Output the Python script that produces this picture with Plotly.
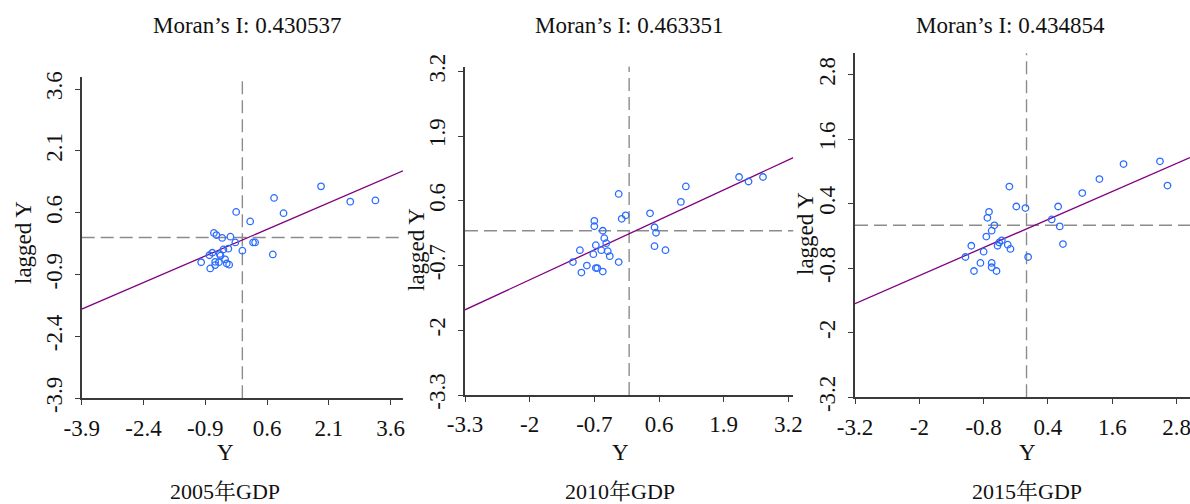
import plotly.graph_objects as go

# ---------------- data ----------------
years = ["2005年GDP", "2010年GDP", "2015年GDP"]
morans_i = [0.430537, 0.463351, 0.434854]
intercepts = [-0.06, -0.06, -0.066]

x_2005 = [-0.15, 0.19, 0.77, 1.00, 1.91, 2.62, 3.23, 0.26, 0.31, 0.74, 0.00, -0.17, -0.29, -0.49,
          -0.69, -0.63, -0.34, -0.46, -0.73, -0.80, -0.55, -0.53, -0.42, -0.66, -0.57, -0.38,
          -0.32, -1.00, -0.78, -0.66]
y_2005 = [0.62, 0.39, 0.96, 0.59, 1.24, 0.87, 0.90, -0.12, -0.12, -0.41, -0.32, -0.12, 0.02, -0.01,
          0.11, 0.06, -0.27, -0.29, -0.37, -0.43, -0.40, -0.44, -0.53, -0.59, -0.60, -0.63,
          -0.66, -0.60, -0.75, -0.67]

x_2010 = [-0.21, -0.15, -0.07, 0.42, 1.04, 1.14, 2.21, 2.40, 2.69, 0.51, 0.54, 0.51, 0.73, -0.70,
          -0.70, -0.53, -0.50, -0.46, -0.67, -0.56, -0.43, -0.39, -0.72, -0.99, -1.13, -0.85,
          -0.67, -0.64, -0.53, -0.96, -0.21]
y_2010 = [0.74, 0.24, 0.31, 0.35, 0.58, 0.89, 1.08, 0.99, 1.08, 0.07, -0.04, -0.31, -0.39, 0.20,
          0.09, 0.00, -0.15, -0.25, -0.29, -0.39, -0.41, -0.51, -0.47, -0.39, -0.63, -0.70,
          -0.75, -0.75, -0.82, -0.84, -0.63]

x_2015 = [-0.32, -0.19, -0.02, 0.59, 1.04, 1.36, 1.81, 2.49, 2.63, 0.47, 0.62, 0.68, 0.03, -0.70,
          -0.73, -0.60, -0.65, -0.75, -0.46, -0.51, -0.54, -0.35, -0.30, -1.03, -0.80, -1.14,
          -0.86, -0.65, -0.65, -0.98, -0.56]
y_2015 = [0.72, 0.35, 0.32, 0.35, 0.60, 0.86, 1.14, 1.19, 0.74, 0.11, -0.02, -0.35, -0.59, 0.25,
          0.14, 0.00, -0.10, -0.21, -0.28, -0.32, -0.38, -0.36, -0.44, -0.38, -0.49, -0.59,
          -0.70, -0.70, -0.78, -0.85, -0.85]

ticks_2005 = [-3.9, -2.4, -0.9, 0.6, 2.1, 3.6]
ticks_2010 = [-3.3, -2, -0.7, 0.6, 1.9, 3.2]
ticks_2015 = [-3.2, -2, -0.8, 0.4, 1.6, 2.8]
labels_2005 = ["-3.9", "-2.4", "-0.9", "0.6", "2.1", "3.6"]
labels_2010 = ["-3.3", "-2", "-0.7", "0.6", "1.9", "3.2"]
labels_2015 = ["-3.2", "-2", "-0.8", "0.4", "1.6", "2.8"]

# ---------------- layout helpers ----------------
W, H = 1190, 504
FONT = "Liberation Serif, Times New Roman, Noto Serif CJK SC, Noto Sans CJK SC, serif"
POINT_COLOR = "#2b6cff"
LINE_COLOR = "#800080"
DASH_COLOR = "#8c8c8c"
AXIS_COLOR = "#3a3a3a"

panels = [
    dict(x=x_2005, y=y_2005, ticks=ticks_2005, labels=labels_2005,
         xr=[-3.9, 3.9], yr=[-3.9, 3.9], px=(81.7, 403.0), py=(76.7, 398.3),
         title_x=247, ylab=(23, 243), xlab_x=225),
    dict(x=x_2010, y=y_2010, ticks=ticks_2010, labels=labels_2010,
         xr=[-3.3, 3.3], yr=[-3.3, 3.3], px=(465.0, 793.3), py=(66.5, 395.0),
         title_x=629, ylab=(416, 250), xlab_x=620),
    dict(x=x_2015, y=y_2015, ticks=ticks_2015, labels=labels_2015,
         xr=[-3.2, 3.05], yr=[-3.2, 3.2], px=(855.0, 1190.0), py=(53.3, 397.3),
         title_x=1010, ylab=(805, 234), xlab_x=1027),
]

fig = go.Figure()
annotations = []
shapes = []

for i, p in enumerate(panels):
    n = "" if i == 0 else str(i + 1)
    xa, ya = "x" + n, "y" + n
    # regression line
    xs = p["xr"]
    ys = [intercepts[i] + morans_i[i] * v for v in xs]
    fig.add_trace(go.Scatter(x=xs, y=ys, mode="lines", xaxis=xa, yaxis=ya,
                             line=dict(color=LINE_COLOR, width=1.3),
                             showlegend=False, hoverinfo="skip", cliponaxis=True))
    # points
    fig.add_trace(go.Scatter(x=p["x"], y=p["y"], mode="markers", xaxis=xa, yaxis=ya,
                             marker=dict(symbol="circle-open", size=6.5, color=POINT_COLOR,
                                         line=dict(width=1.3, color=POINT_COLOR)),
                             showlegend=False))
    dom_x = [p["px"][0] / W, p["px"][1] / W]
    dom_y = [1 - p["py"][1] / H, 1 - p["py"][0] / H]
    common = dict(showgrid=False, zeroline=False, showline=True, linecolor=AXIS_COLOR,
                  linewidth=1.5, ticks="outside", ticklen=5, tickwidth=1.3, automargin=False,
                  tickcolor=AXIS_COLOR, tickfont=dict(family=FONT, size=23, color="#111"),
                  tickvals=p["ticks"], ticktext=p["labels"], fixedrange=True,
                  ticklabeloverflow="allow")
    fig.update_layout(**{
        ("xaxis" + n): dict(domain=dom_x, range=p["xr"], anchor=ya, ticklabelstandoff=3, **common),
        ("yaxis" + n): dict(domain=dom_y, range=p["yr"], anchor=xa, tickangle=-90,
                            ticklabelstandoff=4, **common),
    })
    # dashed mean lines
    shapes.append(dict(type="line", xref=xa, yref=ya + " domain", x0=0, x1=0, y0=0, y1=1,
                       line=dict(color=DASH_COLOR, width=1.4, dash="13px,6px"), layer="below"))
    shapes.append(dict(type="line", xref=xa + " domain", yref=ya, x0=0, x1=1, y0=0, y1=0,
                       line=dict(color=DASH_COLOR, width=1.4, dash="13px,6px"), layer="below"))
    # texts
    annotations.append(dict(text="Moran’s I: %.6f" % morans_i[i], xref="paper", yref="paper",
                            x=p["title_x"] / W, y=1 - 25 / H, showarrow=False,
                            xanchor="center", yanchor="middle",
                            font=dict(family=FONT, size=23, color="#111")))
    annotations.append(dict(text="Y", xref="paper", yref="paper",
                            x=p["xlab_x"] / W, y=1 - 452 / H, showarrow=False,
                            xanchor="center", yanchor="middle",
                            font=dict(family=FONT, size=23, color="#111")))
    annotations.append(dict(text=years[i], xref="paper", yref="paper",
                            x=p["xlab_x"] / W, y=1 - 491 / H, showarrow=False,
                            xanchor="center", yanchor="middle",
                            font=dict(family=FONT, size=22, color="#111")))
    annotations.append(dict(text="lagged Y", xref="paper", yref="paper",
                            x=p["ylab"][0] / W, y=1 - p["ylab"][1] / H, showarrow=False,
                            textangle=-90, xanchor="center", yanchor="middle",
                            font=dict(family=FONT, size=23, color="#111")))

fig.update_layout(width=W, height=H, margin=dict(l=0, r=0, t=0, b=0, autoexpand=False),
                  paper_bgcolor="white", plot_bgcolor="white",
                  annotations=annotations, shapes=shapes, showlegend=False)

fig.write_html("out.html", config={"displayModeBar": False},
               post_script="document.body.style.margin='0';")
